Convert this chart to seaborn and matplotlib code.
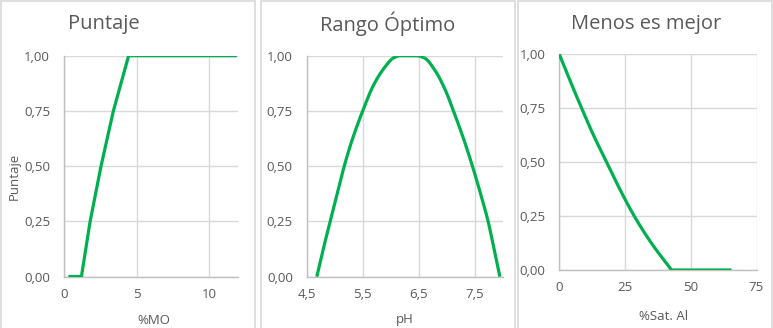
import matplotlib
matplotlib.use("Agg")
import matplotlib.pyplot as plt
import matplotlib.patches as mpatches
import seaborn as sns
import numpy as np
import pandas as pd

# Organic matter (%MO) -> score
mo_x = [0.3, 1.2, 1.8, 2.55, 3.4, 4.45, 11.9]
mo_y = [0.0, 0.0, 0.25, 0.50, 0.75, 1.00, 1.00]

# pH -> score (optimum range)
ph_x = [4.68, 4.8, 4.92, 5.0, 5.17, 5.3, 5.5, 5.7, 5.9, 6.05, 6.17,
        6.46, 6.6, 6.8, 7.0, 7.12, 7.3, 7.46, 7.6, 7.74, 7.85, 7.95]
ph_y = [0.0, 0.13, 0.25, 0.33, 0.50, 0.61, 0.75, 0.87, 0.95, 0.99, 1.00,
        1.00, 0.99, 0.93, 0.83, 0.75, 0.625, 0.50, 0.38, 0.25, 0.12, 0.0]

# Aluminium saturation (%Sat. Al) -> score (less is better)
al_x = [0.0, 4.0, 8.5, 13.0, 18.0, 23.0, 28.5, 35.0, 42.7, 65.5]
al_y = [1.00, 0.88, 0.75, 0.625, 0.50, 0.375, 0.25, 0.125, 0.0, 0.0]

titles = ["Puntaje", "Rango Óptimo", "Menos es mejor"]
xlabels = ["%MO", "pH", "%Sat. Al"]
ylabel = "Puntaje"
y_ticks = [0.0, 0.25, 0.50, 0.75, 1.00]
x_ticks = [[0, 5, 10], [4.5, 5.5, 6.5, 7.5], [0, 25, 50, 75]]
x_limits = [(0, 12), (4.5, 8.0), (0, 75)]
# number of leading points drawn as a smooth curve (rest straight)
smooth_upto = [0, len(ph_x), 9]

sns.set_theme(style="white")
plt.rcParams["font.family"] = ["Open Sans", "DejaVu Sans"]

W, H = 773, 328
fig = plt.figure(figsize=(W / 100, H / 100), dpi=100)

GREEN = "#00B050"
GRID = "#d9d9d9"
TEXT = "#595959"


def fx(px):
    return px / W


def fy(py):
    return 1 - py / H


def monotone_curve(xs, ys, steps=25):
    """Monotone cubic (Fritsch-Carlson) curve through the points."""
    x = np.asarray(xs, float)
    y = np.asarray(ys, float)
    h = np.diff(x)
    d = np.diff(y) / h
    m = np.empty_like(x)
    m[0], m[-1] = d[0], d[-1]
    for k in range(1, len(x) - 1):
        if d[k - 1] * d[k] <= 0:
            m[k] = 0.0
        else:
            w1 = 2 * h[k] + h[k - 1]
            w2 = h[k] + 2 * h[k - 1]
            m[k] = (w1 + w2) / (w1 / d[k - 1] + w2 / d[k])
    ox, oy = [], []
    for k in range(len(x) - 1):
        t = np.linspace(0, 1, steps, endpoint=False)
        h00 = 2 * t ** 3 - 3 * t ** 2 + 1
        h10 = t ** 3 - 2 * t ** 2 + t
        h01 = -2 * t ** 3 + 3 * t ** 2
        h11 = t ** 3 - t ** 2
        ox.append(x[k] + t * h[k])
        oy.append(h00 * y[k] + h10 * h[k] * m[k] + h01 * y[k + 1] + h11 * h[k] * m[k + 1])
    ox.append([x[-1]])
    oy.append([y[-1]])
    return np.concatenate(ox), np.concatenate(oy)


# chart-area boxes
for (l, r) in [(0.5, 255), (261, 515), (518, 772)]:
    fig.patches.append(mpatches.Rectangle((fx(l), fy(340)), fx(r - l), (340 - 0.5) / H,
                                          transform=fig.transFigure, fill=False,
                                          edgecolor="#d9d9d9", linewidth=1.2))

# plot areas in pixels: left, right, top, bottom
areas = [(64, 238.3, 55.7, 276.5), (306.7, 502.7, 55.7, 276.7), (559.3, 756.5, 54.3, 270)]
series = [(mo_x, mo_y), (ph_x, ph_y), (al_x, al_y)]
title_pos = [(104, 24), (388, 24), (646, 24)]
xlabel_pos = [(154, 320), (405, 320), (664, 316)]

for i, ((l, r, t, b), (xs, ys)) in enumerate(zip(areas, series)):
    ax = fig.add_axes([fx(l), fy(b), fx(r - l), (b - t) / H])
    n = smooth_upto[i]
    if n > 2:
        sx, sy = monotone_curve(xs[:n], ys[:n])
        sx = np.concatenate([sx, xs[n:]])
        sy = np.concatenate([sy, ys[n:]])
    else:
        sx, sy = xs, ys
    df = pd.DataFrame({"x": sx, "y": sy})
    sns.lineplot(data=df, x="x", y="y", ax=ax, color=GREEN, linewidth=2.3,
                 sort=False, estimator=None, solid_capstyle="butt", zorder=3)
    ax.set_xlim(*x_limits[i])
    ax.set_ylim(0, 1)
    ax.set_xticks(x_ticks[i])
    ax.set_yticks(y_ticks)
    ax.set_xticklabels([f"{v:g}".replace(".", ",") for v in x_ticks[i]])
    ax.set_yticklabels([f"{v:.2f}".replace(".", ",") for v in y_ticks])
    ax.tick_params(axis="both", length=0, labelsize=9.5, colors=TEXT)
    ax.tick_params(axis="y", pad=10)
    ax.tick_params(axis="x", pad=8)
    ax.grid(True, color=GRID, linewidth=1.0)
    ax.set_axisbelow(True)
    for s in ["top", "right"]:
        ax.spines[s].set_visible(False)
    for s in ["left", "bottom"]:
        ax.spines[s].set_color("#bfbfbf")
        ax.spines[s].set_linewidth(1.0)
    ax.set_xlabel("")
    ax.set_ylabel("")
    ax.set_facecolor("white")
    fig.text(fx(title_pos[i][0]), fy(title_pos[i][1]), titles[i], ha="center", va="center",
             fontsize=14.5, color=TEXT)
    fig.text(fx(xlabel_pos[i][0]), fy(xlabel_pos[i][1]), xlabels[i], ha="center", va="center",
             fontsize=9.5, color=TEXT)

fig.text(fx(14), fy(176), ylabel, ha="center", va="center", rotation=90,
         fontsize=9.5, color=TEXT)

fig.savefig("out.png", dpi=100, facecolor="white")
